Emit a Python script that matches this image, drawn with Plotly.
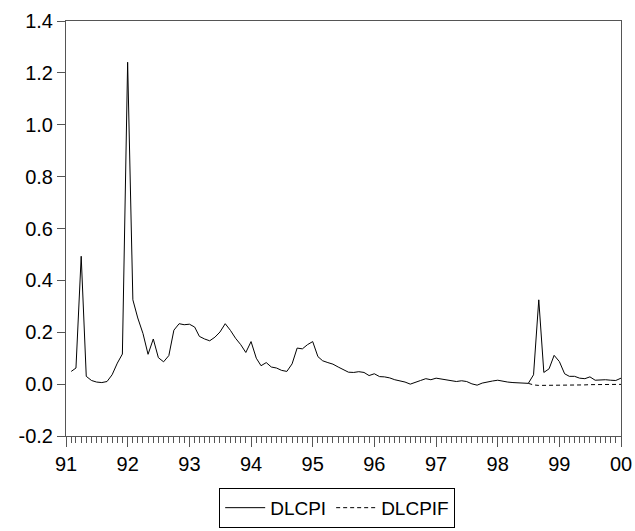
import pandas as pd
import plotly.graph_objects as go

# Monthly observations 1991M02 .. 2000M01
start_month = "1991-02-01"
dlcpi = [
    0.049, 0.062, 0.493, 0.030, 0.014, 0.008, 0.006, 0.010, 0.036, 0.081, 0.116,
    1.241, 0.325, 0.255, 0.195, 0.115, 0.174, 0.102, 0.086, 0.110, 0.208, 0.233, 0.229,
    0.231, 0.220, 0.184, 0.174, 0.167, 0.181, 0.201, 0.233, 0.207, 0.177, 0.152, 0.122,
    0.164, 0.100, 0.071, 0.083, 0.066, 0.062, 0.053, 0.049, 0.078, 0.139, 0.136, 0.152,
    0.164, 0.106, 0.090, 0.083, 0.077, 0.066, 0.055, 0.046, 0.045, 0.048, 0.045, 0.033,
    0.040, 0.029, 0.028, 0.024, 0.017, 0.013, 0.008, 0.000, 0.006, 0.014, 0.021, 0.017,
    0.023, 0.019, 0.017, 0.013, 0.010, 0.013, 0.010, 0.001, -0.004, 0.004, 0.009, 0.012,
    0.015, 0.010, 0.008, 0.006, 0.005, 0.003, 0.003, 0.036, 0.325, 0.045, 0.059, 0.111,
    0.087, 0.040, 0.030, 0.030, 0.023, 0.021, 0.028, 0.015, 0.017, 0.017, 0.015, 0.014,
    0.023,
]
# Forecast 1998M07 .. 2000M01
forecast_start = "1998-07-01"
dlcpif = [
    0.003, -0.003, -0.005, -0.005, -0.005, -0.005, -0.004, -0.004, -0.004, -0.003,
    -0.003, -0.003, -0.002, -0.002, -0.002, -0.001, -0.001, -0.001, -0.001,
]

year_ticks = [f"{y}-01-01" for y in range(1991, 2001)]
year_labels = ["91", "92", "93", "94", "95", "96", "97", "98", "99", "00"]
y_ticks = [-0.2, 0.0, 0.2, 0.4, 0.6, 0.8, 1.0, 1.2, 1.4]
y_labels = ["-0.2", "0.0", "0.2", "0.4", "0.6", "0.8", "1.0", "1.2", "1.4"]

x_main = pd.date_range(start_month, periods=len(dlcpi), freq="MS")
x_fc = pd.date_range(forecast_start, periods=len(dlcpif), freq="MS")

FONT = "Liberation Sans, Arial, sans-serif"
AX = "#555555"
FS = 20

fig = go.Figure()
fig.add_trace(go.Scatter(x=x_fc, y=dlcpif, mode="lines", name="DLCPIF",
                         line=dict(color="black", width=1, dash="4px,3px")))
fig.add_trace(go.Scatter(x=x_main, y=dlcpi, mode="lines", name="DLCPI",
                         line=dict(color="black", width=1)))

fig.update_layout(
    width=635, height=531,
    margin=dict(l=66, r=14, t=21, b=95, autoexpand=False),
    paper_bgcolor="white", plot_bgcolor="white",
    font=dict(family=FONT, size=FS, color="black"),
    showlegend=True,
    legend=dict(orientation="h", xref="container", yref="container",
                x=0.531, xanchor="center", y=0.006, yanchor="bottom",
                bordercolor="black", borderwidth=1, bgcolor="white",
                font=dict(family=FONT, size=19, color="black"),
                traceorder="reversed", itemwidth=40, tracegroupgap=0),
    xaxis=dict(
        type="date", range=["1991-01-01", "2000-01-01"], automargin=False,
        tickmode="array", tickvals=year_ticks, ticktext=year_labels,
        ticks="outside", ticklen=10, tickcolor=AX, tickwidth=1,
        showline=True, linecolor=AX, linewidth=1, mirror=True,
        showgrid=False, zeroline=False,
        minor=dict(dtick="M1", tick0="1991-01-01", ticks="outside", ticklen=6,
                   tickcolor=AX, tickwidth=1, showgrid=False),
        tickfont=dict(family=FONT, size=FS, color="black"),
    ),
    yaxis=dict(
        range=[-0.2, 1.4], automargin=False,
        tickmode="array", tickvals=y_ticks, ticktext=y_labels,
        ticks="outside", ticklen=8, tickcolor=AX, tickwidth=1,
        showline=True, linecolor=AX, linewidth=1, mirror=True,
        showgrid=False, zeroline=False,
        tickfont=dict(family=FONT, size=FS, color="black"),
    ),
)

fig.write_html("out.html")
